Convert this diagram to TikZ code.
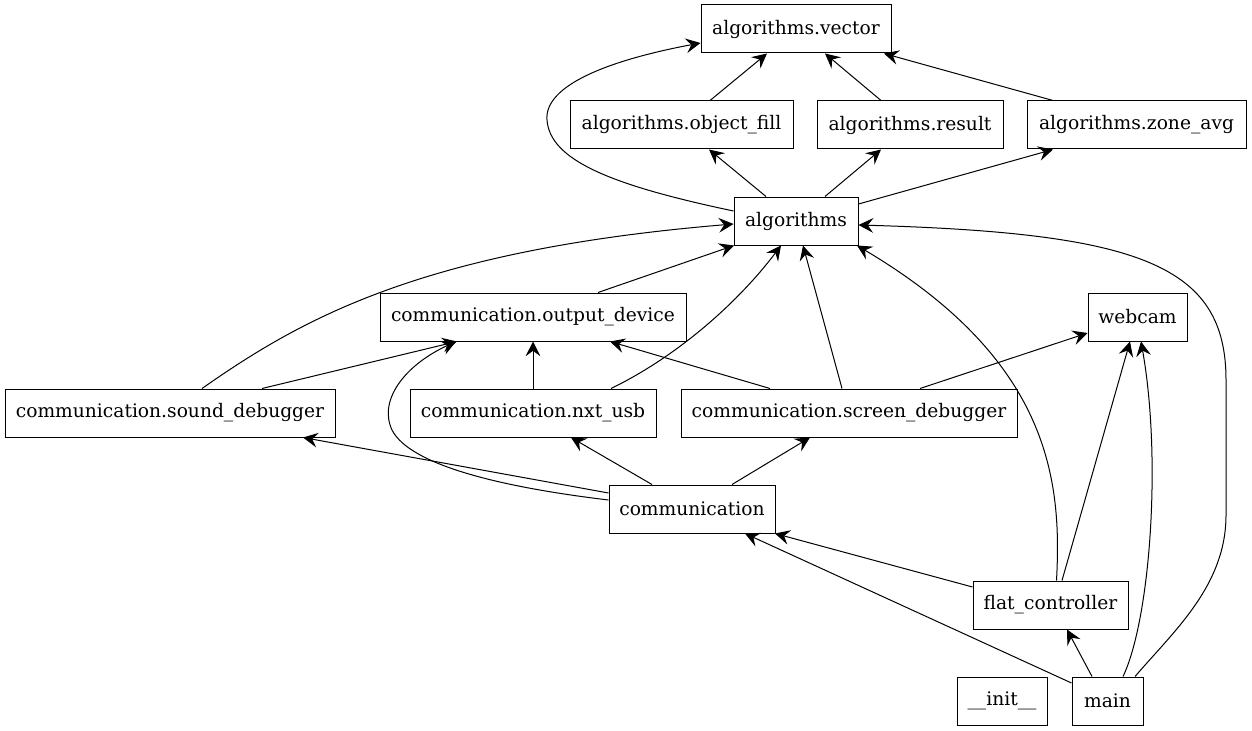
\documentclass[tikz,border=0pt]{standalone}
\usepackage{fontspec}
\setmainfont{DejaVu Serif}
\usetikzlibrary{arrows.meta,calc}
\begin{document}
\begin{tikzpicture}[x=0.75pt,y=-0.75pt,
  box/.style={draw, line width=0.75pt, rectangle, inner sep=0pt, minimum height=36pt,
    font=\fontsize{14}{16}\selectfont},
  edge/.style={line width=0.75pt, -{Stealth[length=11pt,width=11pt,inset=4pt]}}]
\useasboundingbox (0,0) rectangle (1252,731);
\node[box, minimum width=142.5pt] (vec) at (796,29) {algorithms.vector};
\node[box, minimum width=167.25pt] (ofill) at (681.5,125) {algorithms.object\_fill};
\node[box, minimum width=139.5pt] (res) at (910,125) {algorithms.result};
\node[box, minimum width=164.25pt] (zavg) at (1136.5,125) {algorithms.zone\_avg};
\node[box, minimum width=93pt] (alg) at (796,221) {algorithms};
\node[box, minimum width=229.5pt] (outd) at (533,317) {communication.output\_device};
\node[box, minimum width=74.25pt] (webcam) at (1137.5,317) {webcam};
\node[box, minimum width=247.5pt] (sound) at (170,413) {communication.sound\_debugger};
\node[box, minimum width=184.5pt] (nxt) at (533,413) {communication.nxt\_usb};
\node[box, minimum width=252pt] (screen) at (849,413) {communication.screen\_debugger};
\node[box, minimum width=124.5pt] (comm) at (692,509) {communication};
\node[box, minimum width=116.25pt] (flat) at (1050.5,605) {flat\_controller};
\node[box, minimum width=67.5pt] (init) at (1002,701) {\_\_init\_\_};
\node[box, minimum width=53.25pt] (main) at (1107.5,701) {main};

% algorithms.* -> vector
\draw[edge] ($(ofill.north)+(28.5,0)$) -- ($(vec.south)+(-29,0)$);
\draw[edge] ($(res.north)+(-29,0)$) -- ($(vec.south)+(29,0)$);
\draw[edge] ($(zavg.north)+(-83.5,0)$) -- ($(vec.south)+(88,0)$);
\draw[edge] ($(alg.west)+(0,-10)$) .. controls (610,185) and (550,160) .. (547,120)
  .. controls (544,85) and (610,60) .. ($(vec.west)+(0,14)$);
% algorithms -> subs
\draw[edge] ($(alg.north)+(-30,0)$) -- ($(ofill.south)+(27.5,0)$);
\draw[edge] ($(alg.north)+(29,0)$) -- ($(res.south)+(-29,0)$);
\draw[edge] ($(alg.east)+(0,-17)$) -- ($(zavg.south)+(-83.5,0)$);
% -> algorithms
\draw[edge] ($(outd.north)+(65,0)$) -- ($(alg.south)+(-62,0)$);
\draw[edge] ($(sound.north)+(32,0)$) .. controls (300,320) and (420,250) .. ($(alg.west)+(0,3)$);
\draw[edge] ($(nxt.north)+(78,0)$) .. controls (680,355) and (740,300) .. ($(alg.south)+(-15,0)$);
\draw[edge] ($(screen.north)+(-7,0)$) -- ($(alg.south)+(7,0)$);
\draw[edge] ($(flat.north)+(6,0)$) .. controls (1062,480) and (1050,360) .. ($(alg.south)+(61,0)$);
\draw[edge] ($(main.north)+(27.5,0)$) .. controls (1175,630) and (1226,585) .. (1226,515)
  -- (1226,380) .. controls (1226,265) and (1140,233) .. ($(alg.east)+(0,4)$);
% -> output_device
\draw[edge] ($(sound.north)+(92,0)$) -- ($(outd.south)+(-76,0)$);
\draw[edge] (nxt.north) -- (outd.south);
\draw[edge] ($(screen.north)+(-79,0)$) -- ($(outd.south)+(77,0)$);
\draw[edge] ($(comm.west)+(0,-9)$) .. controls (500,487) and (410,465) .. (392,430)
  .. controls (378,400) and (405,365) .. ($(outd.south)+(-77,0)$);
% webcam
\draw[edge] ($(screen.north)+(71,0)$) -- ($(webcam.west)+(0,16)$);
\draw[edge] ($(flat.north)+(11.5,0)$) -- ($(webcam.south)+(-7.5,0)$);
\draw[edge] ($(main.north)+(15.5,0)$) .. controls (1150,620) and (1162,460) .. ($(webcam.south)+(3.5,0)$);
% communication ->
\draw[edge] ($(comm.west)+(0,-16)$) -- ($(sound.south)+(133,0)$);
\draw[edge] ($(comm.north)+(-40,0)$) -- ($(nxt.south)+(38,0)$);
\draw[edge] ($(comm.north)+(40,0)$) -- ($(screen.south)+(-39,0)$);
% -> communication
\draw[edge] ($(flat.west)+(0,-18)$) -- ($(comm.south)+(83,0)$);
\draw[edge] ($(main.west)+(0,-18)$) -- ($(comm.south)+(53,0)$);
% main -> flat
\draw[edge] ($(main.north)+(-15.5,0)$) -- ($(flat.south)+(16.5,0)$);
\end{tikzpicture}
\end{document}
